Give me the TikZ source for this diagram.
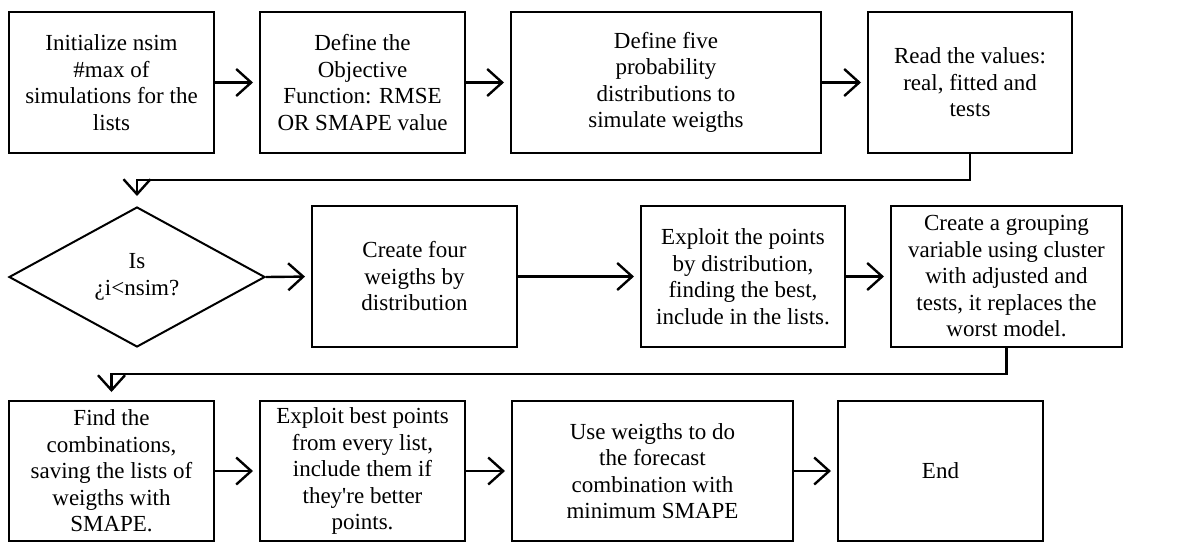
\documentclass[tikz,border=0pt]{standalone}
\usepackage{fontspec}
\setmainfont{Liberation Serif}
\usetikzlibrary{shapes.geometric,arrows.meta}
\tikzset{
  box/.style={draw, line width=2pt, inner sep=0pt, align=center, minimum height=141pt,
    font=\fontsize{23}{26.5}\selectfont},
  decide/.style={draw, diamond, line width=2pt, inner sep=0pt, align=center,
    minimum width=256pt, minimum height=140pt, font=\fontsize{23}{26.5}\selectfont},
  arr/.style={line width=2.4pt, -{Straight Barb[length=15pt,width=27pt,line width=2.4pt]}},
}
\begin{document}
\begin{tikzpicture}[x=1pt,y=-1pt]
\useasboundingbox (0,0) rectangle (1203,542);
% row 1
\node[box, minimum width=205pt] (b1) at (111.5,82.5) {Initialize nsim\\\#max of\\simulations for the\\lists};
\node[box, minimum width=205pt] (b2) at (362.5,82.5) {Define the\\Objective\\Function: RMSE\\OR SMAPE value};
\node[box, minimum width=310pt] (b3) at (666,82.5) {Define five\\probability\\distributions to\\simulate weigths};
\node[box, minimum width=204pt] (b4) at (970,82.5) {Read the values:\\real, fitted and\\tests};
% row 2
\node[decide] (d) at (137,277) {Is\\¿i<nsim?};
\node[box, minimum width=205pt] (c1) at (414.5,276.5) {Create four\\weigths by\\distribution};
\node[box, minimum width=204pt] (c2) at (743,276.5) {Exploit the points\\by distribution,\\finding the best,\\include in the lists.};
\node[box, minimum width=231pt] (c3) at (1006.5,276.5) {Create a grouping\\variable using cluster\\with adjusted and\\tests, it replaces the\\worst model.};
% row 3
\node[box, minimum width=205pt, minimum height=140pt] (e1) at (111.5,471) {Find the\\combinations,\\saving the lists of\\weigths with\\SMAPE.};
\node[box, minimum width=205pt, minimum height=140pt] (e2) at (362.5,471) {Exploit best points\\from every list,\\include them if\\they\textquotesingle re better\\points.};
\node[box, minimum width=281pt, minimum height=140pt] (e3) at (652.5,471) {Use weigths to do\\the forecast\\combination with\\minimum SMAPE};
\node[box, minimum width=205pt, minimum height=140pt] (e4) at (940.5,471) {End};
% connectors
\draw[arr, shorten >=6pt] (b1.east) -- (b2.west);
\draw[arr, shorten >=6pt] (b2.east) -- (b3.west);
\draw[arr, shorten >=6pt] (b3.east) -- (b4.west);
\draw[arr, shorten >=10pt] (b4.south) -- ++(0,26) -| (d.north);
\draw[arr, shorten >=6pt] (d.east) -- (c1.west);
\draw[arr, shorten >=6pt] (c1.east) -- (c2.west);
\draw[arr, shorten >=6pt] (c2.east) -- (c3.west);
\draw[arr, shorten >=8pt] (c3.south) -- ++(0,26) -| (e1.north);
\draw[arr, shorten >=6pt] (e1.east) -- (e2.west);
\draw[arr, shorten >=6pt] (e2.east) -- (e3.west);
\draw[arr, shorten >=6pt] (e3.east) -- (e4.west);
\end{tikzpicture}
\end{document}
